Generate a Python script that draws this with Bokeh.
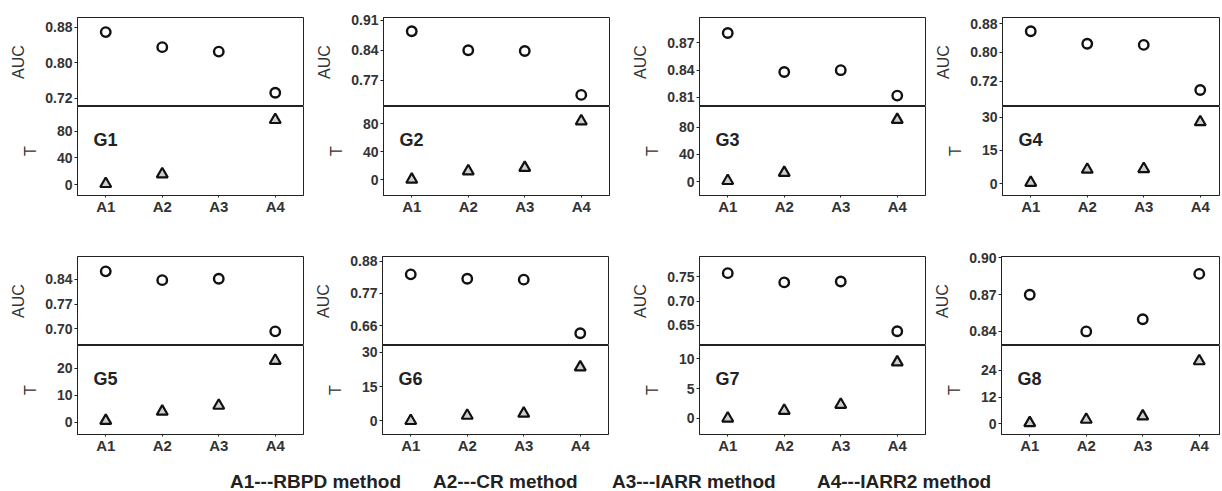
from bokeh.plotting import figure
from bokeh.layouts import row, column
from bokeh.models import Range1d, FixedTicker, PrintfTickFormatter, Label, Div
from bokeh.embed import file_html
from bokeh.resources import INLINE

nan = float("nan")

# ---------------- data ----------------
methods = ["A1", "A2", "A3", "A4"]
groups = ["G1", "G2", "G3", "G4", "G5", "G6", "G7", "G8"]
legend_items = ["A1---RBPD method", "A2---CR method", "A3---IARR method", "A4---IARR2 method"]

auc_G1 = [0.869, 0.835, 0.825, 0.732]
auc_G2 = [0.884, 0.840, 0.838, 0.736]
auc_G3 = [0.881, 0.838, 0.840, 0.812]
auc_G4 = [0.859, 0.824, 0.821, 0.696]
auc_G5 = [0.863, 0.838, 0.842, 0.693]
auc_G6 = [0.835, 0.820, 0.817, 0.634]
auc_G7 = [0.757, 0.738, 0.740, 0.638]
auc_G8 = [0.870, 0.840, 0.850, 0.887]

t_G1 = [1.0, 15.5, nan, 97.0]
t_G2 = [0.0, 12.0, 17.0, 84.0]
t_G3 = [1.0, 13.0, nan, 91.0]
t_G4 = [0.5, 6.4, 6.7, 27.8]
t_G5 = [0.6, 4.0, 6.2, 22.8]
t_G6 = [0.0, 2.3, 3.2, 23.5]
t_G7 = [0.0, 1.3, 2.3, 9.4]
t_G8 = [0.4, 1.9, 3.4, 28.2]

auc_ticks_G1 = [0.72, 0.80, 0.88]
auc_ticks_G2 = [0.77, 0.84, 0.91]
auc_ticks_G3 = [0.81, 0.84, 0.87]
auc_ticks_G4 = [0.72, 0.80, 0.88]
auc_ticks_G5 = [0.70, 0.77, 0.84]
auc_ticks_G6 = [0.66, 0.77, 0.88]
auc_ticks_G7 = [0.65, 0.70, 0.75]
auc_ticks_G8 = [0.84, 0.87, 0.90]

t_ticks_G1 = [0, 40, 80]
t_ticks_G2 = [0, 40, 80]
t_ticks_G3 = [0, 40, 80]
t_ticks_G4 = [0, 15, 30]
t_ticks_G5 = [0, 10, 20]
t_ticks_G6 = [0, 15, 30]
t_ticks_G7 = [0, 5, 10]
t_ticks_G8 = [0, 12, 24]

# axis limits (AUC, T)
auc_lims = [(0.701, 0.902), (0.709, 0.916), (0.800, 0.898), (0.650, 0.897),
            (0.653, 0.905), (0.592, 0.896), (0.609, 0.791), (0.8285, 0.9012)]
t_lims = [(-16.5, 117.0), (-23.0, 105.0), (-20.6, 110.5), (-5.3, 34.8),
          (-4.5, 28.4), (-6.0, 33.0), (-2.7, 12.2), (-4.8, 35.2)]

auc_all = [auc_G1, auc_G2, auc_G3, auc_G4, auc_G5, auc_G6, auc_G7, auc_G8]
t_all = [t_G1, t_G2, t_G3, t_G4, t_G5, t_G6, t_G7, t_G8]
auc_ticks_all = [auc_ticks_G1, auc_ticks_G2, auc_ticks_G3, auc_ticks_G4,
                 auc_ticks_G5, auc_ticks_G6, auc_ticks_G7, auc_ticks_G8]
t_ticks_all = [t_ticks_G1, t_ticks_G2, t_ticks_G3, t_ticks_G4,
               t_ticks_G5, t_ticks_G6, t_ticks_G7, t_ticks_G8]

# ---------------- layout ----------------
FONT = "Liberation Sans"
INK = "#222222"
PX_PER_UNIT = 56.5
HALF_H = 89
border_lefts = [77, 77, 87, 74, 77, 76, 88, 73]
frame_ws = [226, 226, 226, 217, 226, 226, 226, 218]
border_rights = [3, 3, 3, 2, 3, 3, 3, 2]
top_borders = [17, 17, 17, 17, 31, 31, 31, 31]
bottom_borders = [30, 30, 30, 30, 30, 30, 30, 30]


def style(p, ticks, fmt, label):
    p.outline_line_color = INK
    p.outline_line_width = 1.0
    p.xgrid.visible = False
    p.ygrid.visible = False
    p.background_fill_color = "white"
    p.border_fill_color = "white"
    ax = p.yaxis[0]
    ax.ticker = FixedTicker(ticks=ticks)
    ax.formatter = PrintfTickFormatter(format=fmt)
    ax.axis_label = label
    ax.axis_label_text_font = FONT
    ax.axis_label_text_font_style = "normal"
    ax.axis_label_text_font_size = "16px"
    ax.axis_label_text_color = "#333333"
    ax.axis_label_standoff = 15
    ax.major_label_text_font = FONT
    ax.major_label_text_font_style = "bold"
    ax.major_label_text_font_size = "14px"
    ax.major_label_text_color = "#333333"
    ax.major_label_standoff = 2
    ax.major_tick_out = 3
    ax.major_tick_in = 0
    ax.minor_tick_out = 0
    ax.minor_tick_in = 0
    ax.axis_line_color = INK
    ax.major_tick_line_color = INK


def panel(i):
    bl, fw, br = border_lefts[i], frame_ws[i], border_rights[i]
    tb, bb = top_borders[i], bottom_borders[i]
    w = bl + fw + br
    xs = [k + 1 for k in range(len(methods))]
    x_end = 0.5 + fw / PX_PER_UNIT

    top = figure(width=w, height=tb + HALF_H, x_range=Range1d(0.5, x_end),
                 y_range=Range1d(*auc_lims[i]), output_backend="svg",
                 toolbar_location=None, x_axis_location=None,
                 min_border_left=bl, min_border_right=br,
                 min_border_top=tb, min_border_bottom=0)
    style(top, auc_ticks_all[i], "%.2f", "AUC")
    top.scatter(xs, auc_all[i], marker="circle", size=9.5, fill_color="white",
                line_color="#111111", line_width=2.4)

    bot = figure(width=w, height=HALF_H + bb, x_range=top.x_range,
                 y_range=Range1d(*t_lims[i]), output_backend="svg",
                 toolbar_location=None,
                 min_border_left=bl, min_border_right=br,
                 min_border_top=0, min_border_bottom=bb)
    style(bot, t_ticks_all[i], "%d", "T")
    xa = bot.xaxis[0]
    xa.ticker = FixedTicker(ticks=xs)
    xa.major_label_overrides = {x: m for x, m in zip(xs, methods)}
    xa.major_label_text_font = FONT
    xa.major_label_text_font_style = "bold"
    xa.major_label_text_font_size = "15px"
    xa.major_label_text_color = "#333333"
    xa.major_label_standoff = 0
    xa.major_tick_out = 2
    xa.major_tick_in = 0
    xa.minor_tick_out = 0
    xa.minor_tick_in = 0
    xa.axis_line_color = INK
    xa.major_tick_line_color = INK
    bot.scatter(xs, t_all[i], marker="triangle", size=11, fill_color="#cfcfcf",
                line_color="#111111", line_width=2.2)
    lo, hi = t_lims[i]
    bot.add_layout(Label(x=0.5 + 16 / PX_PER_UNIT, y=lo + 0.62 * (hi - lo), text=groups[i],
                         text_font=FONT, text_font_style="bold", text_font_size="18px",
                         text_color=INK, text_baseline="alphabetic"))
    return column(top, bot, spacing=0)


row1 = row(*[panel(i) for i in range(4)], spacing=0)
row2 = row(*[panel(i) for i in range(4, 8)], spacing=0)

legend_lefts = [230, 433, 612, 817]
spans = "".join(
    f'<span style="position:absolute;left:{x}px;top:10px;line-height:16px;white-space:nowrap;">{t}</span>'
    for x, t in zip(legend_lefts, legend_items))
legend = Div(text=f'<div style="position:relative;width:1200px;height:27px;font-family:\'Liberation Sans\';'
                  f'font-weight:bold;font-size:19px;color:#222;">{spans}</div>',
             width=1200, height=27, margin=(0, 0, 0, 0))

layout = column(row1, row2, legend, spacing=0)

open("out.html", "w").write(file_html(layout, INLINE))
